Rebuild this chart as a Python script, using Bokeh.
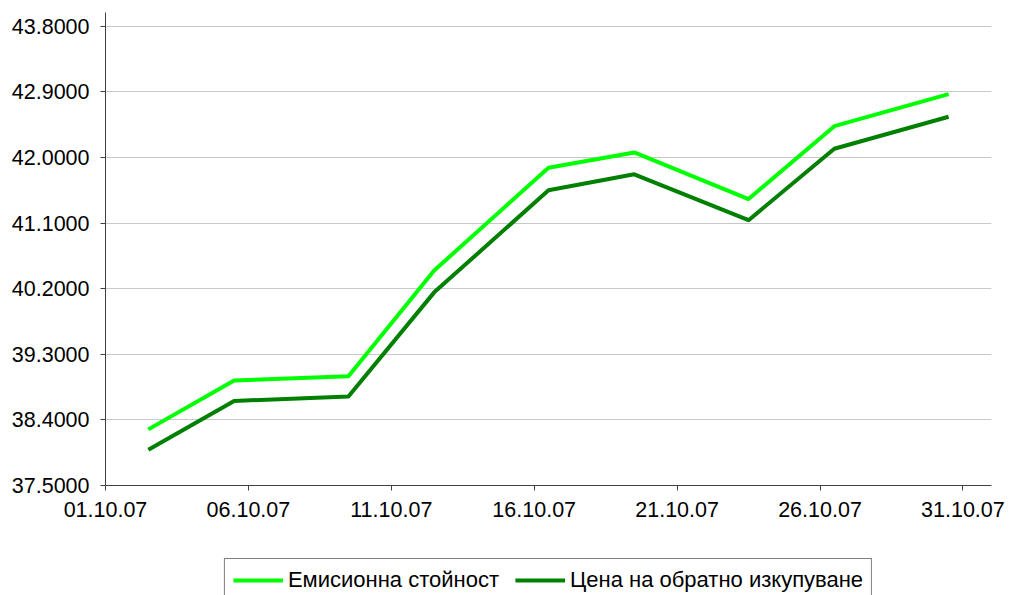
from datetime import date
from bokeh.plotting import figure
from bokeh.layouts import column
from bokeh.models import (ColumnDataSource, Range1d, FixedTicker, Legend, LegendItem,
                          PrintfTickFormatter)
from bokeh.embed import file_html
from bokeh.resources import INLINE

# ---- data ----
dates = ["02.10.07", "05.10.07", "09.10.07", "12.10.07", "16.10.07",
         "19.10.07", "23.10.07", "26.10.07", "30.10.07"]
emission = [38.27, 38.94, 39.00, 40.45, 41.86, 42.07, 41.43, 42.43, 42.87]
redemption = [37.99, 38.66, 38.72, 40.15, 41.55, 41.77, 41.14, 42.12, 42.56]
x_tick_labels = ["01.10.07", "06.10.07", "11.10.07", "16.10.07",
                 "21.10.07", "26.10.07", "31.10.07"]
y_ticks = [37.5, 38.4, 39.3, 40.2, 41.1, 42.0, 42.9, 43.8]
series_names = ["Емисионна стойност", "Цена на обратно изкупуване"]
colors = ["#00FF00", "#008000"]

origin = date(2007, 10, 1)


def day_of(s):
    d, m, y = s.split(".")
    return (date(2000 + int(y), int(m), int(d)) - origin).days


# points plotted at the middle of their day
xs = [day_of(s) + 0.5 for s in dates]
tick_pos = [day_of(s) for s in x_tick_labels]

src = ColumnDataSource(dict(x=xs, e=emission, r=redemption))

FONT = "Liberation Sans"
W = 1012

p = figure(width=W, height=530, output_backend="svg", toolbar_location=None,
           x_range=Range1d(0, 31), y_range=Range1d(37.5, 43.99),
           min_border_left=105, min_border_right=21, min_border_top=12,
           min_border_bottom=45)
p.outline_line_color = None
p.background_fill_color = "white"
p.border_fill_color = "white"

line_kw = dict(line_width=4, line_join="round")
p.line("x", "e", source=src, line_color=colors[0], **line_kw)
p.line("x", "r", source=src, line_color=colors[1], **line_kw)

# axes
p.xaxis.ticker = FixedTicker(ticks=tick_pos)
p.xaxis.major_label_overrides = {t: lab for t, lab in zip(tick_pos, x_tick_labels)}
p.yaxis.ticker = FixedTicker(ticks=y_ticks)
p.yaxis.formatter = PrintfTickFormatter(format="%.4f")

for ax in (p.xaxis, p.yaxis):
    ax.axis_line_color = "#404040"
    ax.axis_line_width = 1
    ax.major_tick_line_color = "#404040"
    ax.major_tick_in = 0
    ax.major_tick_out = 5
    ax.minor_tick_line_color = None
    ax.major_label_text_font = FONT
    ax.major_label_text_font_size = "21.5px"
    ax.major_label_text_color = "black"
p.xaxis.major_label_standoff = 11
p.yaxis.major_label_standoff = 11

p.xgrid.grid_line_color = None
p.ygrid.grid_line_color = "#c8c8c8"
p.ygrid.grid_line_width = 1

# ---- legend strip below the chart ----
lg = figure(width=W, height=65, output_backend="svg", toolbar_location=None,
            x_range=Range1d(0, 1), y_range=Range1d(0, 1),
            x_axis_type=None, y_axis_type=None,
            min_border_left=103, min_border_right=21, min_border_top=28,
            min_border_bottom=0)
lg.outline_line_color = None
lg.xgrid.grid_line_color = None
lg.ygrid.grid_line_color = None
# same series, out of this strip's view: used only as legend glyphs
g1 = lg.line("x", "e", source=src, line_color=colors[0], **line_kw)
g2 = lg.line("x", "r", source=src, line_color=colors[1], **line_kw)

legend = Legend(items=[LegendItem(label=series_names[0], renderers=[g1]),
                       LegendItem(label=series_names[1], renderers=[g2])],
                orientation="horizontal", location="top_center")
legend.border_line_color = "black"
legend.border_line_width = 1
legend.background_fill_color = "white"
legend.background_fill_alpha = 1
legend.label_text_font = FONT
legend.label_text_font_size = "22px"
legend.label_text_color = "black"
legend.glyph_width = 50
legend.glyph_height = 24
legend.label_height = 24
legend.label_standoff = 5
legend.spacing = 16
legend.padding = 8
legend.margin = 0
lg.add_layout(legend, "center")

layout = column(p, lg, spacing=0)
open("out.html", "w").write(file_html(layout, INLINE))
